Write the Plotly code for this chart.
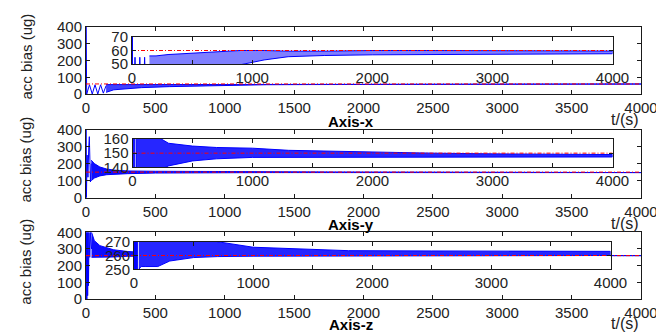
import plotly.graph_objects as go

# ---------------- data ----------------
t_ref = [0, 4000]
ref_x, ref_y, ref_z = 60, 150, 260

# Axis-x: early transient turning points, then oscillation envelope
x_early_t = [0, 0, 5, 25, 45, 65, 85, 105, 125, 145]
x_early_v = [58, 400, 0, 55, 0, 55, 0, 55, 5, 50]
x_band_t = [145, 200, 300, 400, 600, 800, 900, 1100, 1300, 1600, 2000, 2500, 3000, 3500, 4000]
x_upper = [56, 56, 57, 57.5, 58.5, 59.5, 60, 60, 59.5, 59.5, 60, 60, 60, 59.8, 59.6]
x_lower = [10, 25, 32, 38, 44, 48, 50, 53, 55.4, 56.3, 56.8, 57.1, 57.3, 57.5, 57.6]

# Axis-y
y_early_t = [0, 0, 3, 8, 14, 20, 24, 32, 38]
y_early_v = [150, 400, 0, 250, 120, 300, 358, 92, 200]
y_band_t = [38, 60, 100, 150, 200, 300, 500, 700, 1000, 1300, 1800, 2500, 3000, 3500, 4000]
y_upper = [220, 200, 180, 168, 162, 157, 155, 154, 153.5, 152, 151, 150, 149.5, 149.2, 149]
y_lower = [100, 115, 128, 135, 138, 141, 144.5, 146, 147, 147.2, 147.3, 147.3, 147.3, 147.3, 147.3]

# Axis-z
z_early_t = [0, 0, 3, 6, 9, 12, 15, 18, 22, 27, 33, 40]
z_early_v = [260, 0, 400, 0, 400, 20, 400, 80, 400, 250, 400, 300]
z_band_t = [40, 60, 100, 200, 300, 500, 700, 1000, 1400, 1800, 2500, 3000, 3500, 4000]
z_upper = [400, 350, 320, 295, 285, 275, 270, 266, 264.5, 263.5, 263.3, 263.2, 263.1, 263]
z_lower = [250, 252, 252, 252, 256, 258.5, 259.2, 259.5, 259.7, 259.8, 259.9, 260, 260, 260]

main_ticks = [0, 500, 1000, 1500, 2000, 2500, 3000, 3500, 4000]
main_yticks = [0, 100, 200, 300, 400]
inset_ticks = [0, 500, 1000, 1500, 2000, 2500, 3000, 3500, 4000]
inset_ticktext = ["0", "", "1000", "", "2000", "", "3000", "", "4000"]
inset_yticks = [[50, 60, 70], [140, 150, 160], [250, 260, 270]]
inset_yrange = [[50, 70], [140, 160], [250, 270]]
titles = ["Axis-x", "Axis-y", "Axis-z"]

# ---------------- layout geometry (screen pixels) ----------------
OFF = 8                      # page body margin in front of the figure
W, H = 664 - OFF, 332 - OFF  # figure size so it fits the window exactly
main_box = [(86, 641, 27, 94), (86, 641, 129.5, 197.7), (86, 641, 232.3, 299)]
inset_box = [(132, 612.5, 37, 64), (132.5, 612.5, 139, 167.3), (134, 610.5, 241.7, 269.3)]
title_gap = [27, 27, 25]
unit_gap = [25.5, 25.5, 24]

FONT = "Liberation Sans, Arial, Helvetica, sans-serif"
AXC = "#1a1a1a"
BLUE = "#0000ff"
RED = "#ff0000"


def px(x):
    return (x - OFF) / W


def py(y):
    return 1 - (y - OFF) / H


def xdom(b):
    return [px(b[0]), px(b[1])]


def ydom(b):
    return [py(b[3]), py(b[2])]


fig = go.Figure()

data = [
    (x_early_t, x_early_v, x_band_t, x_upper, x_lower, ref_x),
    (y_early_t, y_early_v, y_band_t, y_upper, y_lower, ref_y),
    (z_early_t, z_early_v, z_band_t, z_upper, z_lower, ref_z),
]

layout = dict(
    width=W, height=H, margin=dict(l=0, r=0, t=0, b=0, autoexpand=False),
    paper_bgcolor="white", plot_bgcolor="white", showlegend=False,
    font=dict(family=FONT, size=15, color="#222"),
)

annotations = []
for i, (et, ev, bt, bu, bl, ref) in enumerate(data):
    for k, inset in enumerate([False, True]):
        n = 2 * i + k + 1
        xa = "x" if n == 1 else f"x{n}"
        ya = "y" if n == 1 else f"y{n}"
        band_x = list(bt) + list(bt)[::-1]
        band_y = list(bu) + list(bl)[::-1]
        if inset:
            fc = "rgba(0,0,255,0.5)" if i == 0 else "rgba(0,0,255,0.85)"
        else:
            fc = "rgba(0,0,255,0.75)" if i == 0 else "rgba(0,0,255,0.95)"
        fig.add_trace(go.Scatter(x=band_x, y=band_y, fill="toself", fillcolor=fc,
                                 mode="lines", line=dict(color=BLUE, width=1),
                                 xaxis=xa, yaxis=ya, hoverinfo="skip"))
        fig.add_trace(go.Scatter(x=et, y=ev, mode="lines",
                                 line=dict(color=BLUE, width=1),
                                 xaxis=xa, yaxis=ya, hoverinfo="skip"))
        fig.add_trace(go.Scatter(x=t_ref, y=[ref, ref], mode="lines",
                                 line=dict(color=RED, width=1, dash="4px,2px,1px,2px"),
                                 xaxis=xa, yaxis=ya, hoverinfo="skip"))

        box = inset_box[i] if inset else main_box[i]
        xkey = "xaxis" if n == 1 else f"xaxis{n}"
        ykey = "yaxis" if n == 1 else f"yaxis{n}"
        common = dict(showline=True, linecolor=AXC, linewidth=1, mirror="ticks",
                      ticks="inside", ticklen=4, tickcolor=AXC, tickwidth=1,
                      showgrid=False, zeroline=False, automargin=False,
                      tickfont=dict(family=FONT, size=15, color="#222"))
        if inset:
            layout[xkey] = dict(domain=xdom(box), range=[0, 4000], anchor=ya,
                                tickmode="array", tickvals=inset_ticks,
                                ticktext=inset_ticktext, **common)
            layout[ykey] = dict(domain=ydom(box), range=inset_yrange[i], anchor=xa,
                                tickmode="array", tickvals=inset_yticks[i], **common)
        else:
            layout[xkey] = dict(domain=xdom(box), range=[0, 4000], anchor=ya,
                                tickmode="array", tickvals=main_ticks, **common)
            layout[ykey] = dict(domain=ydom(box), range=[0, 400], anchor=xa,
                                tickmode="array", tickvals=main_yticks, **common)

    mb = main_box[i]
    annotations.append(dict(text="acc bias (ug)", textangle=-90, xref="paper", yref="paper",
                            x=px(26), y=py((mb[2] + mb[3]) / 2 - 4),
                            xanchor="center", yanchor="middle", showarrow=False,
                            font=dict(family=FONT, size=15, color="#222")))
    annotations.append(dict(text="<b>" + titles[i] + "</b>", xref="paper", yref="paper",
                            x=px(351), y=py(mb[3] + title_gap[i]),
                            xanchor="center", yanchor="middle", showarrow=False,
                            font=dict(family=FONT, size=15, color="black")))
    annotations.append(dict(text="t/(s)", xref="paper", yref="paper",
                            x=px(641), y=py(mb[3] + unit_gap[i]),
                            xanchor="right", yanchor="middle", showarrow=False,
                            font=dict(family=FONT, size=16, color="#222")))

layout["annotations"] = annotations
fig.update_layout(**layout)
fig.write_html("out.html")
